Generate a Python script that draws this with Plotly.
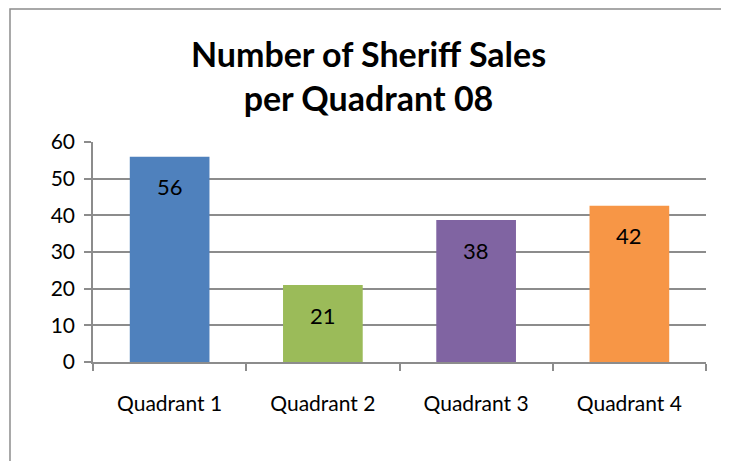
import plotly.graph_objects as go

# Data
quadrants = ["Quadrant 1", "Quadrant 2", "Quadrant 3", "Quadrant 4"]
sales = [56, 21, 38.7, 42.6]
sales_labels = ["56", "21", "38", "42"]
colors = ["#4F81BD", "#9BBB59", "#8064A2", "#F79646"]

font_family = "Lato, Open Sans, sans-serif"

fig = go.Figure(go.Bar(
    x=quadrants,
    y=sales,
    marker=dict(color=colors, line=dict(width=0)),
    width=0.52,
    hoverinfo="skip",
))

# value labels inside bars near the top
for q, v, t in zip(quadrants, sales, sales_labels):
    fig.add_annotation(x=q, y=v, text=t, showarrow=False, yshift=-30,
                       font=dict(size=22, color="black", family=font_family))

# outer chart border (Excel style)
fig.add_shape(type="rect", xref="paper", yref="paper",
              x0=-0.1354, x1=1.026, y0=-0.6, y1=1.605,
              line=dict(color="#8C8C8C", width=1.5), fillcolor="rgba(0,0,0,0)")

# page body has an 8px margin, so the figure is sized/offset for that
fig.update_layout(
    width=721, height=453,
    margin=dict(l=85, r=23, t=134, b=99),
    paper_bgcolor="white", plot_bgcolor="white",
    showlegend=False,
    font=dict(family=font_family, size=21, color="black"),
    title=dict(text="<b>Number of Sheriff Sales<br>per Quadrant 08</b>",
               x=0.5, xanchor="center", y=0.87, yanchor="middle",
               font=dict(size=34, family=font_family)),
    bargap=0.48,
)

fig.update_yaxes(range=[0, 60], dtick=10, showgrid=True, gridcolor="#8C8C8C", gridwidth=1.5,
                 showline=True, linecolor="#8C8C8C", linewidth=1.5,
                 ticks="outside", ticklen=7, tickcolor="#8C8C8C", tickwidth=1.5,
                 zeroline=False, ticklabelstandoff=5, fixedrange=True)
fig.update_xaxes(showline=True, linecolor="#8C8C8C", linewidth=1.5,
                 ticks="outside", tickson="boundaries", ticklen=7,
                 tickcolor="#8C8C8C", tickwidth=1.5, ticklabelstandoff=22,
                 showgrid=False, fixedrange=True)

fig.write_html("out.html")
